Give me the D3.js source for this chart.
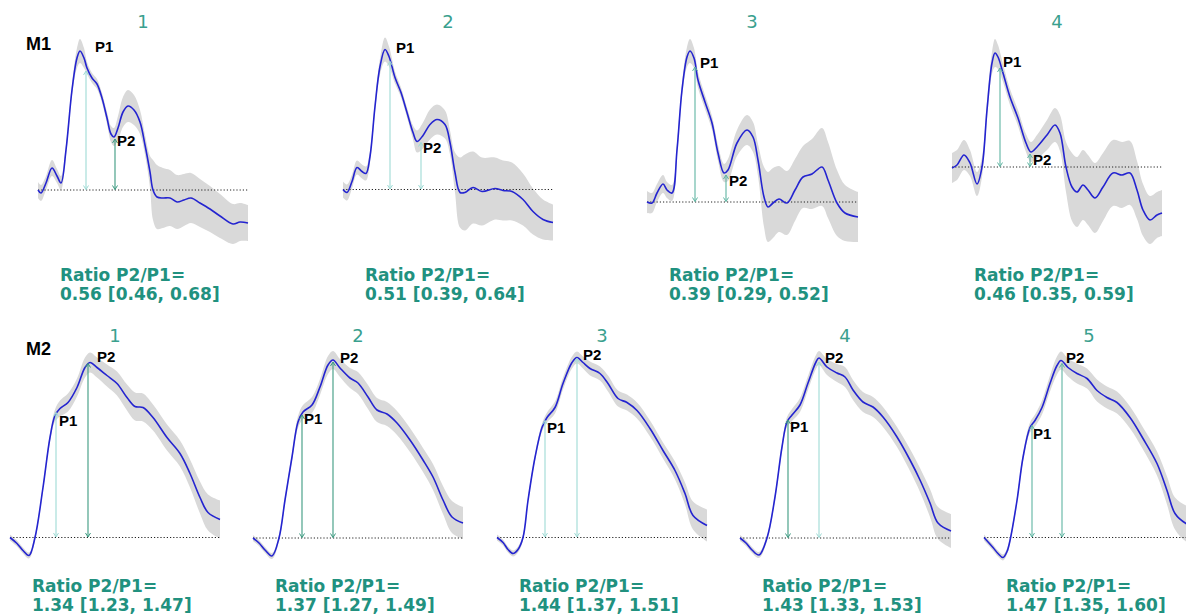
<!DOCTYPE html>
<html><head><meta charset="utf-8">
<script src="https://cdn.jsdelivr.net/npm/d3@7"></script>
<style>body{margin:0;background:#fff}</style>
</head><body>
<svg id="c" width="1186" height="616"></svg>
<script>
// ---- DATA: [time, mean amplitude, half-width of grey band] ----
const M1_1 = [[0,0,0.8],[3,-0.3,0.8],[8,0.7,0.7],[14,2.2,0.8],[19,1.4,0.7],[23,0.7,0.7],[28,4.0,0.6],[34,10.0,0.6],[39,13.2,1.0],[42,13.9,1.2],[46,13.2,1.0],[49,12.2,0.6],[54,11.2,0.5],[59,10.6,0.5],[64,9.2,0.5],[69,7.2,0.6],[73,5.6,0.8],[76,5.3,0.9],[80,6.2,1.2],[85,7.8,1.5],[90,8.4,1.6],[96,8.0,1.5],[102,6.8,1.2],[107,4.5,1.0],[112,1.8,1.6],[115,0,3.0],[119,-0.7,3.2],[125,-0.8,3.0],[132,-0.8,2.8],[139,-1.2,2.7],[146,-1.0,2.6],[153,-0.8,2.5],[162,-1.3,2.4],[172,-1.9,2.3],[182,-2.6,2.2],[195,-3.4,2.0],[202,-3.2,1.9],[210,-3.3,1.8]];
const M1_2 = [[0,0,0.8],[4,-0.3,0.8],[9,0.8,0.7],[14,2.2,0.7],[19,1.8,0.7],[23,1.6,0.7],[27,3.3,0.6],[32,8.3,0.6],[37,12.3,0.8],[42,14.0,1.2],[46,13.3,1.0],[52,11.2,0.6],[58,9.7,0.5],[64,7.7,0.5],[70,5.7,0.7],[74,4.8,1.1],[80,5.4,1.3],[87,6.5,1.5],[94,7.0,1.5],[102,6.5,1.4],[107,4.7,1.2],[112,1.7,2.0],[117,-0.3,3.5],[122,-0.3,3.8],[130,0.2,3.6],[139,-0.2,3.4],[152,0.1,3.1],[160,-0.1,3.0],[169,-0.2,2.9],[180,-1.0,2.6],[190,-2.2,2.3],[200,-3.0,2.0],[210,-3.3,1.8]];
const M1_3 = [[0,0,1.1],[5,-0.1,1.0],[10,0.9,0.9],[16,1.8,0.9],[20,1.2,0.8],[25,0.9,0.8],[30,5.2,0.7],[35,11.2,0.7],[40,14.5,1.0],[43,15.1,1.2],[47,14.4,1.0],[51,12.2,0.8],[58,10.0,0.7],[65,7.9,0.7],[71,4.9,0.8],[77,2.9,0.9],[81,3.2,1.1],[90,5.9,1.3],[100,7.2,1.5],[106,6.5,1.5],[111,4.2,1.6],[117,0.5,3.0],[121,-0.5,3.5],[126,-0.1,3.5],[132,0.3,3.3],[140,-0.1,3.2],[148,1.2,3.1],[156,2.5,3.1],[165,2.8,3.5],[175,3.5,3.9],[181,2.2,3.8],[190,-0.1,3.3],[198,-1.1,2.8],[211,-1.5,2.5]];
const M1_4 = [[0,-0.1,1.5],[5,0.2,1.5],[12,1.2,1.5],[18,0.4,1.3],[25,-1.7,1.2],[30,0,1.0],[35,5.7,0.9],[40,10.4,1.1],[43,11.4,1.4],[46,11.0,1.2],[51,9.4,0.9],[58,7.0,0.8],[66,4.9,0.8],[74,2.4,0.9],[79,1.5,1.0],[85,2.0,1.2],[95,3.2,1.5],[103,4.2,1.7],[108,3.4,1.8],[114,0,2.5],[120,-2.0,3.4],[125,-2.5,3.5],[131,-1.8,3.5],[136,-2.3,3.5],[143,-3.1,3.5],[151,-2.0,3.4],[161,-0.6,3.3],[170,-0.8,3.3],[178,-0.6,3.2],[185,-2.3,2.9],[191,-4.3,2.6],[198,-5.3,2.4],[205,-4.8,2.3],[210,-4.6,2.3]];

const M2_1 = [[0,0,0.3],[7,-0.6,0.3],[13,-1.3,0.3],[19,-1.8,0.3],[25,0,0.3],[33,5.0,0.3],[40,10.0,0.4],[45,12.2,0.6],[50,12.9,0.8],[58,13.5,0.9],[67,15.0,0.9],[75,17.0,1.0],[80,17.5,1.0],[87,17.0,1.0],[97,16.2,1.1],[107,15.4,1.2],[117,14.0,1.3],[125,13.1,1.4],[133,13.0,1.4],[143,12.0,1.3],[157,10.0,1.3],[170,8.4,1.3],[180,6.4,1.4],[190,4.0,1.6],[198,2.5,1.8],[210,1.8,1.9]];
const M2_2 = [[0,0,0.3],[6,-0.5,0.3],[12,-1.2,0.3],[19,-1.8,0.3],[26,0,0.3],[32,3.8,0.3],[39,8.1,0.4],[45,11.6,0.6],[50,12.6,0.7],[59,13.3,0.8],[67,15.1,0.8],[75,17.3,0.9],[80,17.8,0.9],[87,17.0,0.9],[97,16.0,1.0],[105,15.5,1.1],[115,14.1,1.2],[124,12.8,1.2],[134,12.4,1.2],[144,11.5,1.2],[157,9.8,1.2],[170,7.8,1.2],[180,6.1,1.3],[190,3.8,1.4],[199,2.1,1.6],[210,1.5,1.6]];
const M2_3 = [[0,0,0.3],[6,-0.5,0.3],[11,-1.2,0.3],[16,-1.6,0.3],[21,-1.2,0.3],[26,0,0.3],[31,3.7,0.3],[38,8.0,0.3],[45,11.0,0.4],[50,12.0,0.5],[58,13.0,0.6],[66,15.4,0.6],[75,17.5,0.6],[80,18.0,0.6],[86,17.5,0.6],[93,16.9,0.7],[103,16.4,0.7],[111,15.4,0.8],[121,13.9,0.8],[130,13.5,0.8],[140,12.7,0.8],[153,10.9,0.8],[166,8.7,0.8],[178,6.7,0.9],[188,4.4,1.1],[196,2.2,1.4],[210,1.2,1.6]];
const M2_4 = [[0,0,0.3],[6,-0.5,0.3],[12,-1.2,0.3],[19,-1.7,0.3],[27,0,0.3],[35,4.1,0.3],[42,9.1,0.4],[47,11.6,0.5],[52,12.3,0.6],[60,13.3,0.7],[68,15.5,0.7],[76,17.6,0.7],[79,18.0,0.7],[87,17.1,0.8],[97,16.5,0.9],[105,16.1,1.0],[113,14.8,1.0],[123,13.6,1.0],[133,13.1,1.0],[143,12.1,1.0],[157,10.1,1.0],[170,7.8,1.1],[180,5.8,1.2],[190,3.5,1.4],[198,1.5,1.6],[211,0.7,1.7]];
const M2_5 = [[0,0,0.3],[9,-1.0,0.3],[14,-1.6,0.3],[19,-2.0,0.3],[23,-1.4,0.3],[26,-0.3,0.3],[33,3.7,0.3],[39,8.0,0.4],[46,11.0,0.5],[51,11.7,0.6],[58,13.0,0.7],[66,15.4,0.8],[73,17.2,0.9],[77,17.7,0.9],[84,17.0,0.9],[93,16.4,1.0],[103,15.9,1.0],[113,14.7,1.1],[123,14.0,1.1],[133,13.5,1.1],[146,12.0,1.1],[159,9.9,1.1],[173,7.4,1.2],[183,4.7,1.4],[191,2.4,1.6],[202,1.4,1.8],[210,1.1,1.8]];

// peak latencies / amplitudes
const m1P1Lat = [48, 47, 48, 48];
const m1P1Amp = [11.9, 12.8, 13.5, 9.9];
const m1P2Lat = [77, 78, 79, 78];
const m1P2Amp = [5.1, 4.7, 2.7, 1.3];
const m2P1Lat = [46, 49, 48, 48, 48];
const m2P1Amp = [12.5, 12.3, 11.7, 11.8, 11.2];
const m2P2Lat = [78, 80, 80, 79, 78];
const m2P2Amp = [17.4, 17.6, 17.9, 17.6, 17.4];

// ratios
const m1Ratio = [0.56, 0.51, 0.39, 0.46];
const m1Lo    = [0.46, 0.39, 0.29, 0.35];
const m1Hi    = [0.68, 0.64, 0.52, 0.59];
const m2Ratio = [1.34, 1.37, 1.44, 1.43, 1.47];
const m2Lo    = [1.23, 1.27, 1.37, 1.33, 1.35];
const m2Hi    = [1.47, 1.49, 1.51, 1.53, 1.60];

const m1Titles = ["1", "2", "3", "4"];
const m2Titles = ["1", "2", "3", "4", "5"];
const rowNames = ["M1", "M2"];

// ---- LAYOUT / STYLE ----
const tones = {light: "#9fdbd5", mid: "#5fb5a2", dark: "#3b9a80"};
const rows = [
  {name: rowNames[0], series: [M1_1, M1_2, M1_3, M1_4], titles: m1Titles,
   p1t: m1P1Lat, p1a: m1P1Amp, p2t: m1P2Lat, p2a: m1P2Amp,
   ratio: m1Ratio, lo: m1Lo, hi: m1Hi,
   lefts: [38, 343, 647, 952], bases: [190, 189.5, 202, 167],
   titleY: 28, nameY: 50, ratioY: [281, 300],
   tone: [["light","dark"],["light","light"],["mid","mid"],["mid","mid"]],
   off1: [[9,-19],[6,-9],[5,1],[3,-1]],
   off2: [[2,7],[2,10],[3,11],[3,11]]},
  {name: rowNames[1], series: [M2_1, M2_2, M2_3, M2_4, M2_5], titles: m2Titles,
   p1t: m2P1Lat, p1a: m2P1Amp, p2t: m2P2Lat, p2a: m2P2Amp,
   ratio: m2Ratio, lo: m2Lo, hi: m2Hi,
   lefts: [10, 253, 497, 740, 984], bases: [537.5, 538, 537.5, 538, 537.5],
   titleY: 342, nameY: 355, ratioY: [592, 611],
   tone: [["light","dark"],["dark","dark"],["light","light"],["dark","light"],["mid","mid"]],
   off1: [[3,13],[2,9],[2,12],[2,12],[1,13]],
   off2: [[9,-2],[7,1],[6,1],[6,1],[4,-1]]}
];

const svg = d3.select("#c");
const W = 210;
rows.forEach(row => {
  svg.append("text").attr("x", 26).attr("y", row.nameY)
    .attr("font-family", "Liberation Sans, Arial, sans-serif").attr("font-weight", "bold")
    .attr("font-size", 18).attr("fill", "#000").text(row.name);

  row.series.forEach((data, i) => {
    const left = row.lefts[i], base = row.bases[i];
    const x = d3.scaleLinear().domain([0, W]).range([left, left + W]);
    const y = d3.scaleLinear().domain([0, 10]).range([base, base - 100]);
    const g = svg.append("g");

    const area = d3.area().curve(d3.curveCatmullRom.alpha(0.5))
      .x(d => x(d[0])).y0(d => y(d[1] - d[2])).y1(d => y(d[1] + d[2]));
    g.append("path").datum(data).attr("d", area).attr("fill", "#d9d9d9");

    g.append("line").attr("x1", x(0)).attr("x2", x(W)).attr("y1", y(0)).attr("y2", y(0))
      .attr("stroke", "#222").attr("stroke-width", 1).attr("stroke-dasharray", "1.2,2");

    const line = d3.line().curve(d3.curveCatmullRom.alpha(0.5))
      .x(d => x(d[0])).y(d => y(d[1]));
    g.append("path").datum(data).attr("d", line).attr("fill", "none")
      .attr("stroke", "#2424d0").attr("stroke-width", 1.6);

    const peaks = [
      {t: row.p1t[i], a: row.p1a[i], tone: row.tone[i][0], off: row.off1[i], lab: "P1"},
      {t: row.p2t[i], a: row.p2a[i], tone: row.tone[i][1], off: row.off2[i], lab: "P2"}
    ];
    peaks.forEach(p => {
      const px = x(p.t), yt = y(p.a), yb = y(0) - 0.5, c = tones[p.tone];
      g.append("line").attr("x1", px).attr("x2", px).attr("y1", yt).attr("y2", yb)
        .attr("stroke", c).attr("stroke-width", 1.1);
      g.append("path").attr("d", `M${px-2.5},${yb-4}L${px},${yb}L${px+2.5},${yb-4}`)
        .attr("fill", "none").attr("stroke", c).attr("stroke-width", 1);
      g.append("path").attr("d", `M${px-2.5},${yt+4}L${px},${yt}L${px+2.5},${yt+4}`)
        .attr("fill", "none").attr("stroke", c).attr("stroke-width", 1);
      g.append("text").attr("x", px + p.off[0]).attr("y", yt + p.off[1])
        .attr("font-family", "Liberation Sans, Arial, sans-serif").attr("font-weight", "bold")
        .attr("font-size", 15).attr("fill", "#000").text(p.lab);
    });

    svg.append("text").attr("x", x(W / 2)).attr("y", row.titleY).attr("text-anchor", "middle")
      .attr("font-family", "DejaVu Sans, sans-serif").attr("font-size", 18)
      .attr("fill", "#3aa08e").text(row.titles[i]);

    const tx = svg.append("text").attr("font-family", "DejaVu Sans, sans-serif")
      .attr("font-weight", "bold").attr("font-size", 17).attr("fill", "#21917f");
    tx.append("tspan").attr("x", left + 22).attr("y", row.ratioY[0]).text("Ratio P2/P1=");
    tx.append("tspan").attr("x", left + 22).attr("y", row.ratioY[1])
      .text(`${row.ratio[i].toFixed(2)} [${row.lo[i].toFixed(2)}, ${row.hi[i].toFixed(2)}]`);
  });
});
</script>
</body></html>
